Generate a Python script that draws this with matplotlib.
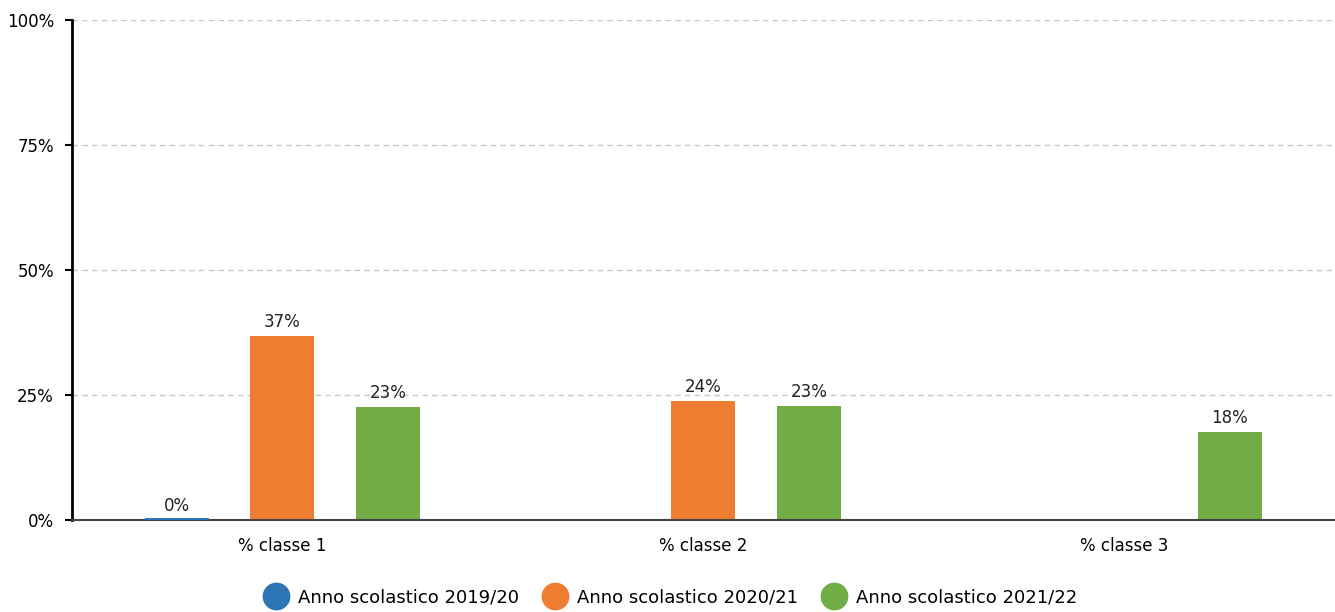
import numpy as np
import matplotlib.pyplot as plt
from matplotlib.lines import Line2D

categorie = ['% classe 1', '% classe 2', '% classe 3']
serie = ['Anno scolastico 2019/20', 'Anno scolastico 2020/21', 'Anno scolastico 2021/22']
valori_2019 = [0.0, np.nan, np.nan]
valori_2020 = [36.8, 23.8, np.nan]
valori_2021 = [22.6, 22.8, 17.6]
colori = ['#2E75B6', '#ED7D31', '#70AD47']

plt.rcParams['font.family'] = ['DejaVu Sans']

fig = plt.figure(figsize=(13.35, 6.12), dpi=100)
ax = fig.add_axes([0.0539, 0.1503, 0.9461, 0.8170])

x = np.arange(len(categorie))
larghezza = 0.152
passo = 0.25

for i, (valori, colore) in enumerate(zip([valori_2019, valori_2020, valori_2021], colori)):
    pos = x + (i - 1) * passo
    for xp, v in zip(pos, valori):
        if np.isnan(v):
            continue
        if v == 0:
            # barra a zero: solo una sottile linea colorata
            ax.bar(xp, 0.5, width=larghezza, color=colore, linewidth=0, zorder=6)
        else:
            ax.bar(xp, v, width=larghezza, color=colore, linewidth=0, zorder=3)
        ax.text(xp, v + 1.0, f"{round(v):.0f}%", ha='center', va='bottom',
                fontsize=12, color='#222222', zorder=4)

ax.set_xlim(-0.5, 2.5)
ax.set_ylim(0, 100)
ax.set_yticks([0, 25, 50, 75, 100])
ax.set_yticklabels(['0%', '25%', '50%', '75%', '100%'], fontsize=12)
ax.set_xticks(x)
ax.set_xticklabels(categorie, fontsize=12)
ax.tick_params(axis='x', length=0, pad=12)
ax.tick_params(axis='y', length=5, width=1.5, color='black', pad=8)

ax.grid(axis='y', linestyle=(0, (4, 3)), color='#c8c8c8', linewidth=1, zorder=0)
ax.axhline(0, color='#444444', linewidth=1.5, zorder=5, clip_on=False)
for s in ['top', 'right', 'bottom']:
    ax.spines[s].set_visible(False)
ax.spines['left'].set_linewidth(2)
ax.spines['left'].set_color('black')

handles = [Line2D([], [], marker='o', linestyle='none', markersize=19,
                  markerfacecolor=c, markeredgecolor=c) for c in colori]
fig.legend(handles, serie, loc='center', bbox_to_anchor=(0.5, 0.024), ncol=3,
           frameon=False, fontsize=13, handletextpad=0.2, columnspacing=1.0)

fig.savefig('out.png', dpi=100)
